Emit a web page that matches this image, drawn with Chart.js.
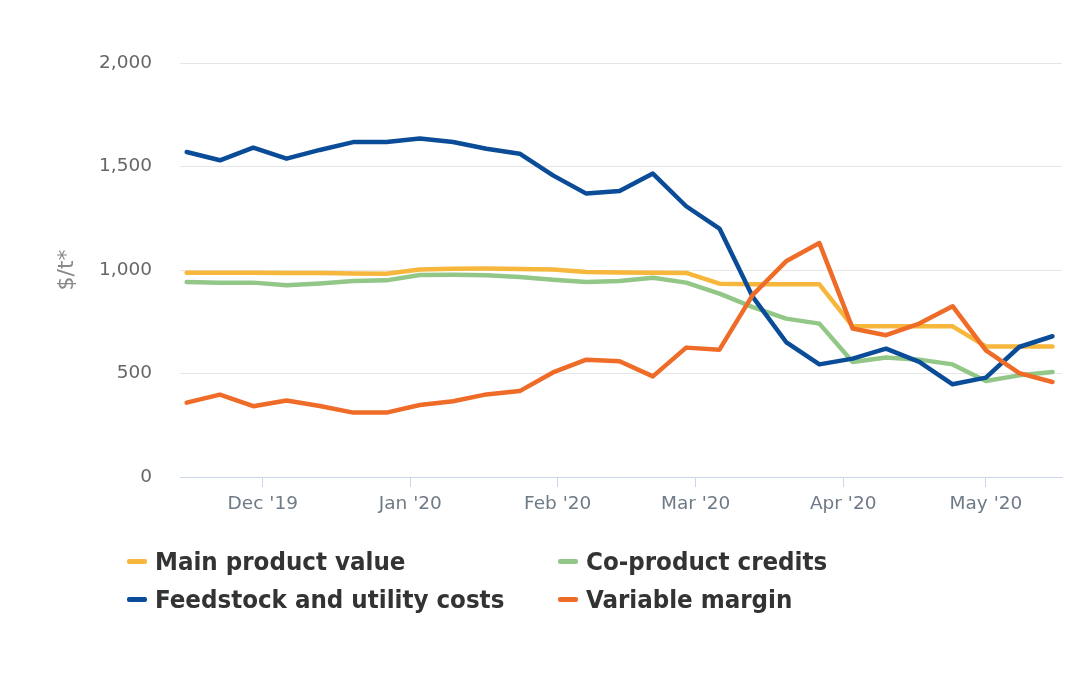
<!DOCTYPE html>
<html><head><meta charset="utf-8">
<script src="https://cdn.jsdelivr.net/npm/chart.js@4.4.1/dist/chart.umd.min.js"></script>
<style>
html,body{margin:0;padding:0;background:#fff;}
#wrap{position:relative;width:1080px;height:675px;background:#fff;}
canvas{display:block;}
#legend{position:absolute;left:0;top:0;width:1080px;height:675px;pointer-events:none;font-family:"DejaVu Sans Condensed","DejaVu Sans",sans-serif;font-weight:bold;font-size:25.6px;color:#333;}
.item{position:absolute;white-space:nowrap;display:flex;align-items:center;height:30px;line-height:30px;}
.sw{width:20px;height:5px;border-radius:2px;margin-right:8px;}
</style></head>
<body>
<div id="wrap"><canvas id="c" width="1080" height="675"></canvas><div id="legend"></div></div>
<script>
// ---- data ----
const weeks = ["2019-11-15","2019-11-22","2019-11-29","2019-12-06","2019-12-13","2019-12-20","2019-12-27",
  "2020-01-03","2020-01-10","2020-01-17","2020-01-24","2020-01-31","2020-02-07","2020-02-14","2020-02-21","2020-02-28",
  "2020-03-06","2020-03-13","2020-03-20","2020-03-27","2020-04-03","2020-04-10","2020-04-17","2020-04-24",
  "2020-05-01","2020-05-08","2020-05-15"];
const mainProductValue = [987,987,987,985,985,983,982,1002,1006,1007,1005,1002,990,988,987,986,934,931,931,931,728,728,728,728,631,631,631];
const coProductCredits = [942,939,939,926,935,947,950,976,977,975,966,953,942,947,963,939,886,821,765,741,556,577,567,544,464,491,507];
const feedstockUtility = [1570,1530,1591,1538,1580,1618,1618,1635,1618,1586,1562,1457,1369,1382,1466,1308,1200,870,652,544,572,620,556,448,480,628,680];
const variableMargin = [359,398,342,370,343,311,311,348,366,399,415,505,567,559,486,625,615,880,1042,1130,717,685,741,825,612,502,459];
const monthTickDates = ["2019-12-01","2020-01-01","2020-02-01","2020-03-01","2020-04-01","2020-05-01"];
const monthTickLabels = ["Dec '19","Jan '20","Feb '20","Mar '20","Apr '20","May '20"];
const yTicks = [0,500,1000,1500,2000];
const seriesNames = ["Main product value","Co-product credits","Feedstock and utility costs","Variable margin"];
const seriesColors = ["#F7B63C","#92C787","#0B4C98","#EE6C28"];

// ---- helpers ----
const t0 = Date.parse(weeks[0]);
const dayOf = d => (Date.parse(d) - t0) / 86400000;
const toPts = arr => arr.map((v,i)=>({x: dayOf(weeks[i]), y: v}));
const allSeries = [mainProductValue, coProductCredits, feedstockUtility, variableMargin];
const orders = [4,3,2,1];

const datasets = allSeries.map((arr,i)=>({
  label: seriesNames[i], data: toPts(arr), borderColor: seriesColors[i], backgroundColor: seriesColors[i],
  borderWidth: 4.5, pointRadius: 0, pointHoverRadius: 0, tension: 0, fill: false,
  borderJoinStyle: 'round', borderCapStyle: 'round', order: orders[i]
}));

const font18 = {family: "'DejaVu Sans', sans-serif", size: 18.5};

new Chart(document.getElementById('c'), {
  type: 'line',
  data: { datasets },
  options: {
    responsive: false, animation: false, devicePixelRatio: 1,
    layout: { padding: { top: 63, right: 18, bottom: 148, left: 0 } },
    plugins: { legend: { display: false }, tooltip: { enabled: false } },
    scales: {
      x: {
        type: 'linear',
        min: dayOf(weeks[0]) - 1.4,
        max: dayOf(weeks[weeks.length-1]) + 2.0,
        afterBuildTicks: s => { s.ticks = monthTickDates.map(d => ({ value: dayOf(d) })); },
        afterFit: s => { s.height = 50; },
        ticks: { autoSkip: false, maxRotation: 0, font: font18, color: '#6e7a86', padding: 6,
          callback: (v, i) => monthTickLabels[i] },
        grid: { drawOnChartArea: false, drawTicks: true, tickLength: 10, color: '#ccd6eb', tickColor: '#ccd6eb' },
        border: { display: true, color: '#ccd6eb', width: 1 }
      },
      y: {
        min: yTicks[0], max: yTicks[yTicks.length-1],
        afterBuildTicks: s => { s.ticks = yTicks.map(v => ({ value: v })); },
        afterFit: s => { s.width = 180; },
        ticks: { font: font18, color: '#666666', padding: 28, callback: v => v.toLocaleString('en-US') },
        grid: { color: '#e6e6e6', drawTicks: false, lineWidth: 1 },
        border: { display: false },
        title: { display: true, text: '$/t*', color: '#888888', font: {family: "'DejaVu Sans', sans-serif", size: 22}, padding: { top: 54, bottom: 0 } }
      }
    }
  }
});

// ---- HTML legend built from the datasets ----
const legend = document.getElementById('legend');
const pos = [[127,546],[558,546],[127,584],[558,584]];
seriesNames.forEach((name,i)=>{
  const it = document.createElement('div');
  it.className = 'item';
  it.style.left = pos[i][0] + 'px'; it.style.top = pos[i][1] + 'px';
  const sw = document.createElement('span'); sw.className = 'sw'; sw.style.background = seriesColors[i];
  const tx = document.createElement('span'); tx.textContent = name;
  it.appendChild(sw); it.appendChild(tx); legend.appendChild(it);
});
</script>
</body></html>
